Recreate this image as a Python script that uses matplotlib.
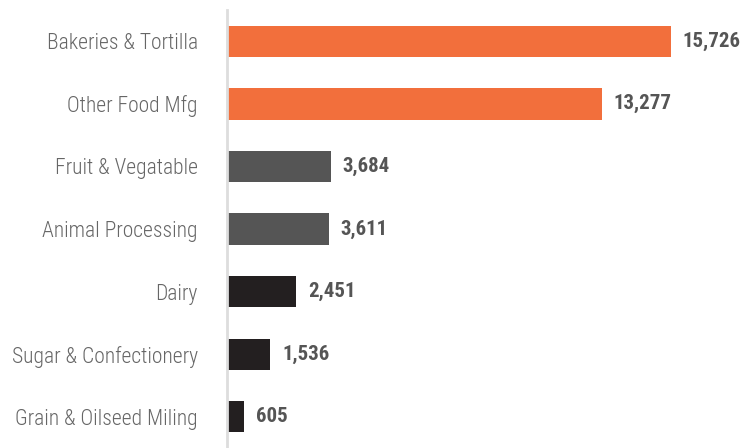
import matplotlib.pyplot as plt
from matplotlib import font_manager

categories = ["Bakeries & Tortilla", "Other Food Mfg", "Fruit & Vegatable",
              "Animal Processing", "Dairy", "Sugar & Confectionery",
              "Grain & Oilseed Miling"]
values = [15726, 13277, 3684, 3611, 2451, 1536, 605]
colors = ["#F26F3C", "#F26F3C", "#555555", "#555555",
          "#231F20", "#231F20", "#231F20"]

names = {f.name for f in font_manager.fontManager.ttflist}
family = "Roboto Condensed" if "Roboto Condensed" in names else "Roboto"
plt.rcParams["font.family"] = [family, "DejaVu Sans"]
plt.rcParams["font.stretch"] = "condensed"

fig = plt.figure(figsize=(7.49, 4.48), dpi=100)
ax = fig.add_axes([227 / 749, 0, 1 - 227 / 749, 1 - 10 / 448])

y = list(range(len(categories)))
ax.barh(y, values, height=0.5, color=colors)
for yi, v in zip(y, values):
    ax.text(v + 420, yi, f"{v:,}", va="center", ha="left",
            fontsize=15, fontweight="bold", color="#555555")

ax.set_ylim(len(categories) - 0.5, -0.5)
ax.set_xlim(0, 18500)
ax.set_yticks(y)
ax.set_yticklabels(categories, fontsize=15.5, fontweight="light", color="#666666")
ax.tick_params(axis="y", length=0, pad=21)
ax.set_xticks([])
for side in ["top", "right", "bottom"]:
    ax.spines[side].set_visible(False)
ax.spines["left"].set_color("#DDDDDD")
ax.spines["left"].set_linewidth(2)

fig.savefig("out.png", dpi=100)
